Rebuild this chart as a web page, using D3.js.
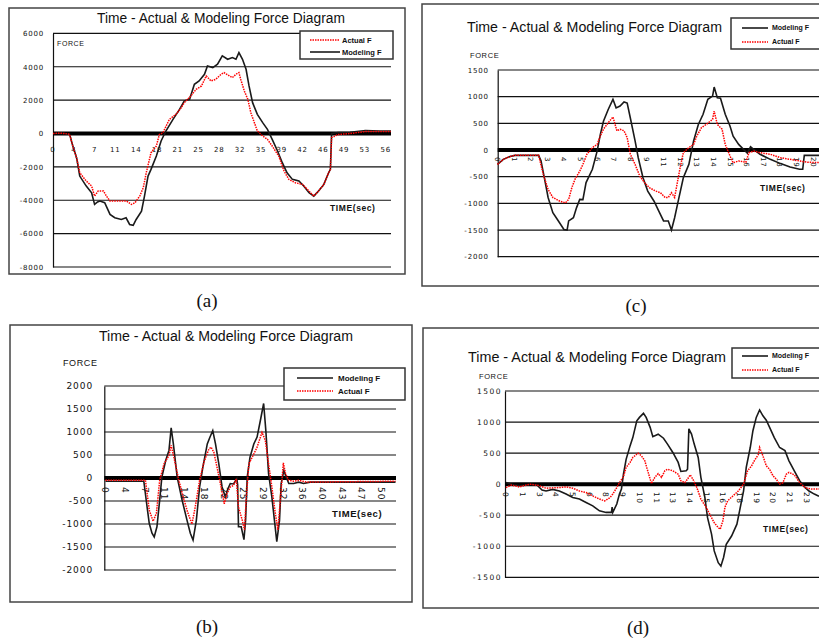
<!DOCTYPE html>
<html lang="en">
<head>
<meta charset="utf-8">
<script src="https://cdn.jsdelivr.net/npm/d3@7"></script>
<style>
body { margin: 0; background: #fff; }
svg { display: block; }
text { font-family: "Liberation Sans", Arial, sans-serif; fill: #111; }
</style>
</head>
<body>
<script>
// ---- data: [time (sec), force] ----
var aModel = [[0,0],[1,20],[2,0],[2.8,-50],[3.3,-700],[4,-1500],[4.5,-2550],[5.6,-3150],[6.5,-3550],[7,-4250],[7.5,-4100],[7.9,-4050],[8.7,-4150],[9.6,-4850],[10.4,-5050],[11.5,-5150],[12.3,-5050],[12.9,-5450],[13.5,-5500],[14,-5150],[14.9,-4650],[15.4,-3750],[16,-2550],[16.5,-2150],[17.4,-1350],[18.2,-450],[19,150],[20.2,850],[21.3,1450],[22.1,1950],[23,2050],[23.8,2950],[24.6,3150],[25.5,3550],[26,4050],[26.9,3950],[27.7,4150],[28.5,4650],[29.4,4450],[30.2,4550],[30.8,4450],[31.3,4850],[31.9,4450],[32.5,3850],[33,2850],[33.6,1850],[34.4,1150],[35.3,650],[36.1,250],[36.9,-350],[37.8,-1050],[38.6,-1750],[39.4,-2350],[40.3,-2750],[41.4,-2850],[42.2,-3150],[43.1,-3550],[43.9,-3750],[44.7,-3450],[45.6,-3050],[46.4,-2350],[46.7,-2150],[46.9,0],[48,60],[50,80],[52.6,180],[55,150],[56.9,150]];
var aActual = [[0,0],[1,20],[2,0],[2.8,-50],[3.3,-700],[4,-1500],[4.5,-2350],[5.6,-2850],[6.5,-3150],[7,-3750],[7.6,-3450],[8.5,-3450],[9,-3750],[9.6,-4050],[10.7,-4050],[12.4,-4050],[13.2,-4250],[13.8,-4150],[14.6,-3750],[15.2,-3250],[15.7,-2350],[16.5,-1150],[17.4,-750],[17.9,-60],[18.5,40],[19.6,850],[20.7,1150],[21.6,1550],[22.1,1850],[23.2,2250],[24.1,2650],[25,2850],[25.8,3450],[26.6,3150],[27.4,3250],[28.3,3550],[28.8,3650],[29.7,3450],[30.2,3350],[30.8,3550],[31.3,3650],[31.6,3250],[32.2,2550],[32.8,2050],[33.3,1250],[33.9,650],[34.4,150],[35.3,-150],[36.1,-350],[36.9,-750],[38,-1350],[38.9,-2250],[39.7,-2750],[40.8,-2950],[42,-3050],[43.1,-3450],[43.9,-3750],[44.7,-3450],[45.6,-3050],[46.4,-2350],[46.7,-2150],[46.9,-250],[48,-60],[50,0],[52.6,120],[56.9,120]];

var bModel = [[0,-70],[7,-70],[7.6,-630],[8,-990],[8.5,-1200],[8.9,-1280],[9.4,-1060],[9.9,-480],[10.3,20],[11,380],[11.6,600],[12,1090],[12.4,740],[13.1,20],[14,-480],[14.9,-920],[15.5,-1200],[16,-1350],[16.6,-920],[17.2,-195],[17.8,240],[18.6,740],[19.1,890],[19.6,1030],[20.1,740],[20.7,310],[21.3,-195],[21.9,-410],[22.4,-230],[22.8,-120],[23.4,-130],[24,-15],[24.15,-150],[24.3,-1060],[24.8,-1060],[25.3,-1340],[25.6,-920],[25.9,20],[26.4,450],[27.1,740],[27.7,890],[28.3,1250],[28.9,1620],[29.3,1030],[29.8,95],[30.4,-410],[31,-1060],[31.3,-1385],[31.8,-920],[32.1,-120],[32.6,165],[33,20],[33.5,-120],[34.4,-120],[35.3,-90],[36.2,-120],[37.4,-90],[53,-90]];
var bActual = [[0,-50],[7.3,-50],[8,-700],[8.7,-940],[9.3,-770],[9.9,-50],[10.7,310],[11.6,490],[12,710],[12.5,450],[13.4,-50],[14.2,-410],[15,-740],[15.8,-1000],[16.4,-630],[17.2,-50],[18,350],[18.9,630],[19.3,670],[19.8,560],[20.5,165],[21.3,-300],[21.7,-560],[22.2,-340],[22.8,-195],[23.4,-160],[23.9,-20],[24.3,-630],[25,-920],[25.4,-1130],[25.7,-480],[26.2,310],[26.8,450],[27.7,670],[28.6,990],[29.2,820],[29.8,310],[30.4,-195],[31,-740],[31.5,-1130],[32,-410],[32.5,330],[32.9,95],[33.5,-50],[34.4,-70],[35.3,-50],[36.8,-90],[53,-70]];

var cModel = [[0,-270],[0.37,-175],[0.8,-120],[1.1,-100],[2.6,-100],[2.75,-200],[3,-580],[3.2,-890],[3.5,-1175],[3.85,-1330],[4.2,-1490],[4.4,-1500],[4.5,-1330],[4.8,-1270],[5,-1080],[5.2,-925],[5.4,-930],[5.6,-610],[6,-360],[6.3,-20],[6.5,290],[6.7,540],[7,760],[7.3,950],[7.5,790],[7.75,825],[8,900],[8.2,880],[8.4,600],[8.7,170],[8.9,-145],[9.2,-520],[9.5,-770],[9.9,-960],[10.2,-1145],[10.5,-1330],[10.8,-1330],[11,-1500],[11.2,-1270],[11.45,-925],[11.75,-520],[12.1,-270],[12.4,170],[12.7,480],[13,670],[13.3,950],[13.6,1010],[13.7,1180],[13.9,980],[14.1,970],[14.4,670],[14.7,450],[14.9,260],[15.25,105],[15.45,45],[15.8,-60],[16,60],[16.2,10],[16.6,-80],[17.25,-175],[17.9,-255],[18.5,-320],[19.1,-360],[19.3,-360],[19.4,-100],[21,-100]];
var cActual = [[0,-270],[0.37,-175],[0.8,-120],[1.1,-100],[2.6,-100],[2.9,-460],[3.2,-740],[3.5,-890],[3.95,-960],[4.3,-990],[4.5,-925],[4.7,-705],[4.9,-550],[5.2,-395],[5.4,-270],[5.65,-80],[6,45],[6.3,105],[6.5,260],[6.7,390],[7,510],[7.3,620],[7.55,360],[7.75,390],[8,360],[8.2,230],[8.4,-80],[8.7,-270],[9,-490],[9.3,-610],[9.6,-705],[10,-770],[10.3,-800],[10.6,-890],[10.8,-890],[11,-800],[11.2,-890],[11.35,-645],[11.55,-330],[11.75,-50],[12.1,45],[12.4,105],[12.6,260],[12.9,420],[13.2,480],[13.6,575],[13.7,730],[13.9,480],[14.2,390],[14.4,105],[14.7,-110],[14.9,-240],[15.25,-205],[15.7,-230],[15.9,-50],[16.2,-20],[16.6,-50],[17.25,-80],[17.9,-145],[18.5,-175],[19.1,-205],[19.6,-230],[21,-240]];

var dModel = [[0,25],[0.55,-10],[1,-25],[1.8,-10],[2.3,-10],[2.7,-95],[3,-110],[3.5,-85],[4,-110],[4.5,-160],[5,-215],[5.5,-240],[6,-295],[6.5,-350],[7,-430],[7.5,-455],[7.9,-455],[7.95,-370],[8,-455],[8.3,-320],[8.5,-160],[8.65,-80],[8.8,160],[9,400],[9.3,620],[9.5,750],[9.8,1020],[10,1075],[10.3,1140],[10.5,1075],[10.8,915],[11,765],[11.4,805],[11.8,740],[12.1,645],[12.5,510],[12.9,350],[13.1,205],[13.5,215],[13.6,240],[13.7,890],[13.9,805],[14.1,645],[14.4,430],[14.6,110],[14.9,-215],[15.1,-540],[15.4,-805],[15.6,-1075],[15.9,-1265],[16.1,-1320],[16.3,-1180],[16.5,-970],[16.9,-835],[17.3,-645],[17.5,-430],[17.8,-110],[18,270],[18.3,590],[18.5,860],[18.75,1075],[19,1195],[19.25,1100],[19.5,1030],[19.75,915],[20.1,750],[20.5,590],[20.9,540],[21.2,375],[21.6,215],[22,55],[22.4,-55],[22.7,-110],[23.1,-160],[23.4,-190],[24.5,-220]];
var dActual = [[0,-55],[0.4,-15],[1,-45],[1.8,0],[2.5,-25],[3,-65],[4,-55],[4.5,-45],[5,-65],[5.5,-110],[6,-135],[6.5,-190],[7,-240],[7.4,-270],[7.8,-215],[8,-160],[8.3,-55],[8.5,25],[8.8,120],[9,270],[9.3,350],[9.5,430],[9.9,500],[10.15,455],[10.4,375],[10.65,190],[10.9,10],[11.15,110],[11.4,170],[11.65,110],[11.9,215],[12.1,240],[12.5,215],[12.9,160],[13.1,55],[13.4,25],[13.6,80],[13.8,150],[14,80],[14.3,-55],[14.6,-240],[15,-375],[15.4,-540],[15.6,-620],[15.9,-700],[16.05,-725],[16.25,-590],[16.4,-375],[16.6,-270],[17,-190],[17.4,-110],[17.8,0],[18.1,215],[18.4,295],[18.6,375],[18.9,475],[19,590],[19.25,455],[19.5,295],[19.75,240],[20,135],[20.25,80],[20.5,0],[20.75,25],[21,160],[21.2,190],[21.6,150],[22,25],[22.4,-55],[22.9,-80],[24.5,-80]];

// tick labels (Excel category axis, rounded)
var aXLabels = ["0","4","7","11","14","18","21","25","28","32","35","39","42","46","49","53","56"];
var bXLabels = ["0","4","7","11","14","18","22","25","29","32","36","40","43","47","50"];
var cXLabels = ["0","1","2","3","4","5","6","7","8","9","11","12","13","14","15","16","17","18","19","20"];
var dXLabels = ["0","1","3","4","5","6","8","9","10","11","13","14","15","16","18","19","20","21","23","24"];
var aYTicks = [6000, 4000, 2000, 0, -2000, -4000, -6000, -8000];
var bYTicks = [2000, 1500, 1000, 500, 0, -500, -1000, -1500, -2000];
var cYTicks = [1500, 1000, 500, 0, -500, -1000, -1500, -2000];
var dYTicks = [1500, 1000, 500, 0, -500, -1000, -1500];

var title = "Time - Actual & Modeling Force Diagram";

var svg = d3.select("body").append("svg")
  .attr("width", 819)
  .attr("height", 639);

function drawPanel(p) {
  var g = svg.append("g");

  // outer frame
  g.append("rect")
    .attr("x", p.box[0]).attr("y", p.box[1])
    .attr("width", p.box[2] - p.box[0]).attr("height", p.box[3] - p.box[1])
    .attr("fill", "none").attr("stroke", "#444").attr("stroke-width", 1.5);

  var x = d3.scaleLinear().domain(p.xDomain).range([p.x0, p.x1]);
  var y = d3.scaleLinear().domain([p.yTicks[0], p.yTicks[p.yTicks.length - 1]]).range([p.top, p.bottom]);

  // grid lines
  g.selectAll(".grid").data(p.yTicks.filter(function(d) { return d != 0; }))
    .enter().append("line")
    .attr("x1", p.left).attr("x2", p.right)
    .attr("y1", function(d) { return y(d); }).attr("y2", function(d) { return y(d); })
    .attr("stroke", "#111").attr("stroke-width", 1.2);

  // y axis
  var yAxis = g.append("g")
    .attr("transform", "translate(" + p.left + ",0)")
    .call(d3.axisLeft(y).tickValues(p.yTicks).tickSize(0).tickSizeOuter(0).tickPadding(p.yPad)
      .tickFormat(function(d) { return String(d); }));
  yAxis.select(".domain").attr("stroke", "#111").attr("stroke-width", 1.2);
  yAxis.selectAll("text")
    .style("font-family", "DejaVu Sans, sans-serif")
    .style("font-size", p.tickFont + "px")
    .style("letter-spacing", p.tickSpace + "px")
    .attr("fill", "#111");

  // thick zero line
  g.append("line")
    .attr("x1", p.left).attr("x2", p.right)
    .attr("y1", y(0)).attr("y2", y(0))
    .attr("stroke", "#000").attr("stroke-width", 4);

  // x labels
  var xl = g.selectAll(".xl").data(p.xLabels).enter().append("text")
    .style("font-family", "DejaVu Sans, sans-serif")
    .style("font-size", p.tickFont + "px")
    .style("letter-spacing", p.tickSpace + "px")
    .text(function(d) { return d; });
  if (p.rotate) {
    xl.attr("transform", function(d, i) {
        return "translate(" + x(i * p.xStep) + "," + p.xLabelY + ") rotate(90)";
      })
      .attr("dy", "0.35em");
  } else {
    xl.attr("x", function(d, i) { return x(i * p.xStep); })
      .attr("y", p.xLabelY)
      .attr("dy", "0.35em")
      .attr("text-anchor", "middle");
  }

  // series
  var line = d3.line()
    .x(function(d) { return x(d[0]); })
    .y(function(d) { return y(d[1]); });

  g.append("path").datum(p.model)
    .attr("d", line).attr("fill", "none")
    .attr("stroke", "#1a1a1a").attr("stroke-width", 1.6);
  g.append("path").datum(p.actual)
    .attr("d", line).attr("fill", "none")
    .attr("stroke", "#ff0000").attr("stroke-width", 1.5)
    .attr("stroke-dasharray", "1.5,1");

  // title, axis names
  g.append("text")
    .attr("x", p.title[0]).attr("y", p.title[1])
    .attr("textLength", p.title[2]).attr("lengthAdjust", "spacingAndGlyphs")
    .style("font-size", "14px")
    .text(title);
  g.append("text")
    .attr("x", p.force[0]).attr("y", p.force[1])
    .style("font-size", p.force[2] + "px")
    .style("letter-spacing", "0.6px")
    .text("FORCE");
  g.append("text")
    .attr("x", p.time[0]).attr("y", p.time[1])
    .style("font-size", p.time[2] + "px")
    .style("font-weight", "bold")
    .style("letter-spacing", "0.6px")
    .text("TIME(sec)");

  // legend
  var lg = p.legend;
  g.append("rect")
    .attr("x", lg.box[0]).attr("y", lg.box[1])
    .attr("width", lg.box[2] - lg.box[0]).attr("height", lg.box[3] - lg.box[1])
    .attr("fill", "#fff").attr("stroke", "#333").attr("stroke-width", 1.5);
  lg.items.forEach(function(it) {
    var red = it.name == "Actual F";
    g.append("line")
      .attr("x1", lg.lx[0]).attr("x2", lg.lx[1])
      .attr("y1", it.y).attr("y2", it.y)
      .attr("stroke", red ? "#ff0000" : "#1a1a1a")
      .attr("stroke-width", red ? 1.5 : 1.6)
      .attr("stroke-dasharray", red ? "1.5,1" : null);
    g.append("text")
      .attr("x", lg.tx).attr("y", it.y)
      .attr("dy", "0.35em")
      .style("font-size", lg.font + "px")
      .style("font-weight", "bold")
      .text(it.name);
  });

  // caption under panel
  g.append("text")
    .attr("x", p.caption[0]).attr("y", p.caption[1])
    .attr("text-anchor", "middle")
    .style("font-family", "Liberation Serif, Times New Roman, serif")
    .style("font-size", "19px")
    .text(p.caption[2]);
}

drawPanel({
  box: [9, 8, 405, 274], left: 53, right: 391, top: 33.4, bottom: 267,
  x0: 53, x1: 391, xDomain: [0, 56.9], xStep: 3.5, xLabels: aXLabels, xLabelY: 150, rotate: false,
  yTicks: aYTicks, yPad: 9, tickFont: 7, tickSpace: 0.8,
  model: aModel, actual: aActual,
  title: [97, 23, 248], force: [57, 46, 7], time: [330, 211, 8.5],
  legend: { box: [300, 31, 393, 59], lx: [310, 340], tx: 342, font: 7.5,
    items: [{ name: "Actual F", y: 40 }, { name: "Modeling F", y: 52 }] },
  caption: [207, 307, "(a)"]
});

drawPanel({
  box: [422, 4, 832, 286], left: 497.7, right: 832, top: 70, bottom: 256.7,
  x0: 497.5, x1: 813, xDomain: [0, 19.95], xStep: 1.05, xLabels: cXLabels, xLabelY: 157, rotate: true,
  yTicks: cYTicks, yPad: 9, tickFont: 7, tickSpace: 0.8,
  model: cModel, actual: cActual,
  title: [467, 32, 255], force: [470, 58, 7.5], time: [760, 191, 8.5],
  legend: { box: [731, 18, 832, 49], lx: [742, 768], tx: 772, font: 7,
    items: [{ name: "Modeling F", y: 28 }, { name: "Actual F", y: 42 }] },
  caption: [636, 312, "(c)"]
});

drawPanel({
  box: [10, 325, 412, 602], left: 104.3, right: 396, top: 386, bottom: 570,
  x0: 105.5, x1: 381.3, xDomain: [0, 50.4], xStep: 3.6, xLabels: bXLabels, xLabelY: 487, rotate: true,
  yTicks: bYTicks, yPad: 11, tickFont: 9, tickSpace: 1,
  model: bModel, actual: bActual,
  title: [99, 341, 254], force: [63, 366, 9], time: [332, 517, 9.5],
  legend: { box: [284, 368, 405, 400], lx: [297, 333], tx: 338, font: 8,
    items: [{ name: "Modeling F", y: 378 }, { name: "Actual F", y: 391 }] },
  caption: [207, 633, "(b)"]
});

drawPanel({
  box: [423, 328, 832, 608], left: 505, right: 832, top: 391, bottom: 577.3,
  x0: 506, x1: 823, xDomain: [0, 23.75], xStep: 1.25, xLabels: dXLabels, xLabelY: 492, rotate: true,
  yTicks: dYTicks, yPad: 3, tickFont: 7.5, tickSpace: 1.5,
  model: dModel, actual: dActual,
  title: [468, 362, 258], force: [479, 379, 7.5], time: [763, 532, 8.5],
  legend: { box: [732, 348, 832, 378], lx: [742, 768], tx: 772, font: 7,
    items: [{ name: "Modeling F", y: 356 }, { name: "Actual F", y: 370 }] },
  caption: [638, 634, "(d)"]
});
</script>
</body>
</html>
